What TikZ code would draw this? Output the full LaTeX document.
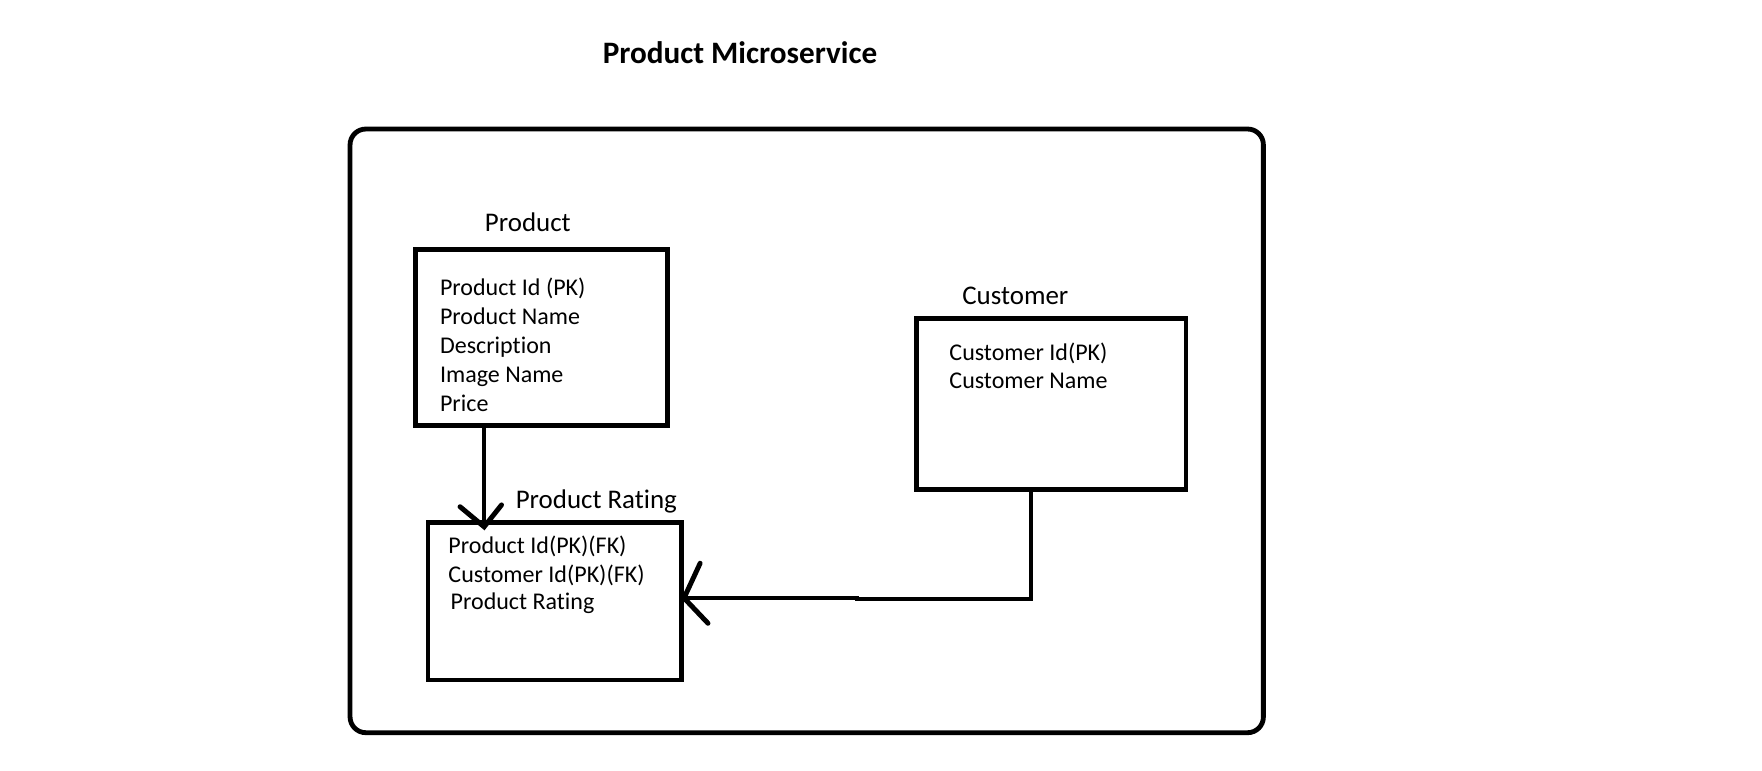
\documentclass[tikz,border=0pt]{standalone}
\usepackage{fontspec}
\setmainfont{Carlito}[Ligatures=NoCommon]
\begin{document}
\begin{tikzpicture}[x=1pt,y=-1pt]
\tikzset{
  frame/.style={draw=black, line width=4.3pt, rounded corners=14pt, inner sep=0pt},
  entity/.style={draw=black, line width=4.3pt, inner sep=0pt},
  field/.style={anchor=base west, inner sep=0pt, font=\fontsize{21.4}{26}\selectfont},
  entname/.style={anchor=base west, inner sep=0pt, font=\fontsize{24}{29}\selectfont},
  conn/.style={draw=black, line width=3.8pt},
  arm/.style={draw=black, line width=4.4pt, line cap=round},
}
\useasboundingbox (0,0) rectangle (1570.4,686.3);
\node[anchor=base west, inner sep=0pt, font=\fontsize{27.8}{33}\selectfont\bfseries] (title) at (537,56.4) {Product Microservice};
\node[frame, minimum width=814pt, minimum height=538pt] (ms) at (719,384) {};
% Product
\node[entity, minimum width=225pt, minimum height=157pt] (product) at (482.5,301) {};
\node[entname] (productname) at (432,206.5) {Product};
\node[field] (p1) at (392,263) {Product Id (PK)};
\node[field] (p2) at (392,289) {Product Name};
\node[field] (p3) at (392,315) {Description};
\node[field] (p4) at (392,341) {Image Name};
\node[field] (p5) at (392,367) {Price};
% Customer
\node[entity, minimum width=240pt, minimum height=152pt] (customer) at (937,360) {};
\node[entname] (customername) at (857.5,271) {Customer};
\node[field] (c1) at (846,321) {Customer Id(PK)};
\node[field] (c2) at (846,346.5) {Customer Name};
% Product Rating
\node[entity, minimum width=226pt, minimum height=140pt] (rating) at (494.5,536) {};
\node[entname] (ratingname) at (459.5,453) {Product Rating};
\node[field] (r1) at (399.5,493.5) {Product Id(PK)(FK)};
\node[field] (r2) at (399.5,519.5) {Customer Id(PK)(FK)};
\node[field] (r3) at (401.5,543.5) {Product Rating};
% connector Product -> Product Rating
\coordinate (t1) at (431.5,469.5);
\draw[conn] (t1 |- product.south) -- (t1);
\draw[arm] (410,451.6) -- (t1) -- (447,450);
% connector Customer -> Product Rating
\coordinate (bend) at (919,534);
\coordinate (step) at (764,534);
\coordinate (t2) at (rating.east |- 0,533);
\draw[conn] (bend |- customer.south) -- (bend) -- (step) -- (step |- t2) -- (t2);
\draw[arm] (624,502) -- (t2) -- (631,555.5);
\end{tikzpicture}
\end{document}
